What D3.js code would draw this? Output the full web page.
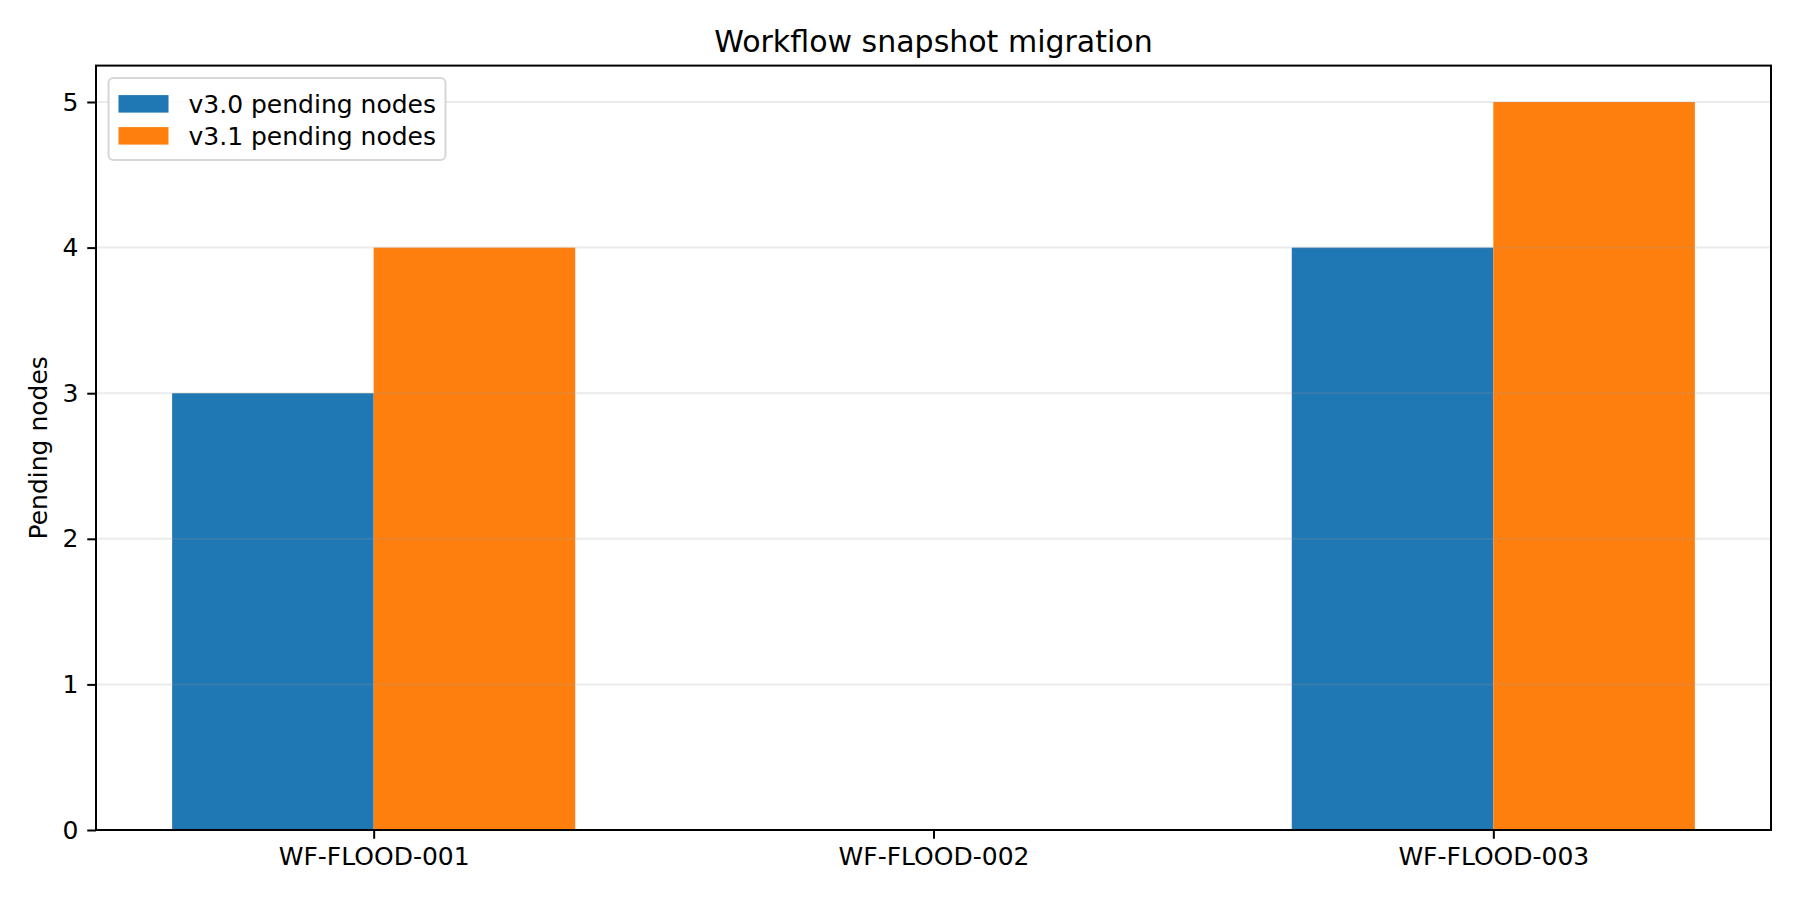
<!DOCTYPE html>
<html>
<head>
<meta charset="utf-8">
<script src="https://cdn.jsdelivr.net/npm/d3@7"></script>
<style>
  body { margin: 0; background: #fff; }
  svg text { font-family: "DejaVu Sans", sans-serif; fill: #000; }
</style>
</head>
<body>
<div id="chart"></div>
<script>
// data
const CATEGORIES = ["WF-FLOOD-001", "WF-FLOOD-002", "WF-FLOOD-003"];
const V30_VALUES = [3, 0, 4];
const V31_VALUES = [4, 0, 5];
const SERIES_NAMES = ["v3.0 pending nodes", "v3.1 pending nodes"];
const Y_TICKS = [0, 1, 2, 3, 4, 5];

const SVG_WIDTH = 1800;
const SVG_HEIGHT = 900;
const X_LEFT = 96;
const X_RIGHT = 1771;
const Y_TOP = 65.6;
const Y_BOTTOM = 830;
const BAR_WIDTH = 0.36;
const COLORS = ["#1f77b4", "#ff7f0e"];

const svg = d3.select("#chart")
  .append("svg")
  .attr("width", SVG_WIDTH)
  .attr("height", SVG_HEIGHT);

const xScale = d3.scaleLinear()
  .domain([-BAR_WIDTH - 0.136, CATEGORIES.length - 1 + BAR_WIDTH + 0.136])
  .range([X_LEFT, X_RIGHT]);
const yScale = d3.scaleLinear().domain([0, 5.25]).range([Y_BOTTOM, Y_TOP]);

// bars
const series = [V30_VALUES, V31_VALUES];
series.forEach((vals, s) => {
  svg.append("g")
    .selectAll("rect")
    .data(vals)
    .enter()
    .append("rect")
    .attr("x", (d, i) => xScale(i + (s === 0 ? -BAR_WIDTH : 0)))
    .attr("width", (d, i) => xScale(BAR_WIDTH) - xScale(0))
    .attr("y", d => yScale(d))
    .attr("height", d => yScale(0) - yScale(d))
    .attr("fill", COLORS[s]);
});

// grid (drawn over bars, like the reference)
svg.append("g")
  .selectAll("line")
  .data(Y_TICKS)
  .enter()
  .append("line")
  .attr("x1", X_LEFT)
  .attr("x2", X_RIGHT)
  .attr("y1", d => yScale(d))
  .attr("y2", d => yScale(d))
  .attr("stroke", "#999")
  .attr("stroke-opacity", 0.2)
  .attr("stroke-width", 2);

// axes
const yAxis = svg.append("g")
  .attr("transform", `translate(${X_LEFT},0)`)
  .call(d3.axisLeft(yScale).tickValues(Y_TICKS).tickFormat(d3.format("d"))
    .tickSize(8.75).tickPadding(8.75));
const xAxis = svg.append("g")
  .attr("transform", `translate(0,${Y_BOTTOM})`)
  .call(d3.axisBottom(xScale).tickValues(d3.range(CATEGORIES.length))
    .tickFormat(i => CATEGORIES[i]).tickSize(8.75).tickPadding(8.75));

[yAxis, xAxis].forEach(ax => {
  ax.select(".domain").remove();
  ax.selectAll(".tick line").attr("stroke", "#000").attr("stroke-width", 2);
  ax.selectAll("text").style("font-size", "25px").attr("fill", "#000");
});

// frame
svg.append("rect")
  .attr("x", X_LEFT)
  .attr("y", Y_TOP)
  .attr("width", X_RIGHT - X_LEFT)
  .attr("height", Y_BOTTOM - Y_TOP)
  .attr("fill", "none")
  .attr("stroke", "#000")
  .attr("stroke-width", 2);

// title & y label
svg.append("text")
  .attr("x", (X_LEFT + X_RIGHT) / 2)
  .attr("y", 52)
  .style("text-anchor", "middle")
  .style("font-size", "30px")
  .text("Workflow snapshot migration");

svg.append("text")
  .attr("transform", "rotate(-90)")
  .attr("x", -(Y_TOP + Y_BOTTOM) / 2)
  .attr("y", 47)
  .style("text-anchor", "middle")
  .style("font-size", "25px")
  .text("Pending nodes");

// legend
const legend = svg.append("g").attr("transform", `translate(${X_LEFT + 12.5},${Y_TOP + 12.5})`);
legend.append("rect")
  .attr("width", 337)
  .attr("height", 82)
  .attr("rx", 5)
  .attr("fill", "#fff")
  .attr("fill-opacity", 0.8)
  .attr("stroke", "#d6d6d6")
  .attr("stroke-width", 2);

SERIES_NAMES.forEach((name, i) => {
  const cy = 26 + i * 32;
  legend.append("rect")
    .attr("x", 10)
    .attr("y", cy - 9)
    .attr("width", 50)
    .attr("height", 17.5)
    .attr("fill", COLORS[i]);
  legend.append("text")
    .attr("x", 80)
    .attr("y", cy + 9)
    .style("font-size", "25px")
    .text(name);
});
</script>
</body>
</html>
